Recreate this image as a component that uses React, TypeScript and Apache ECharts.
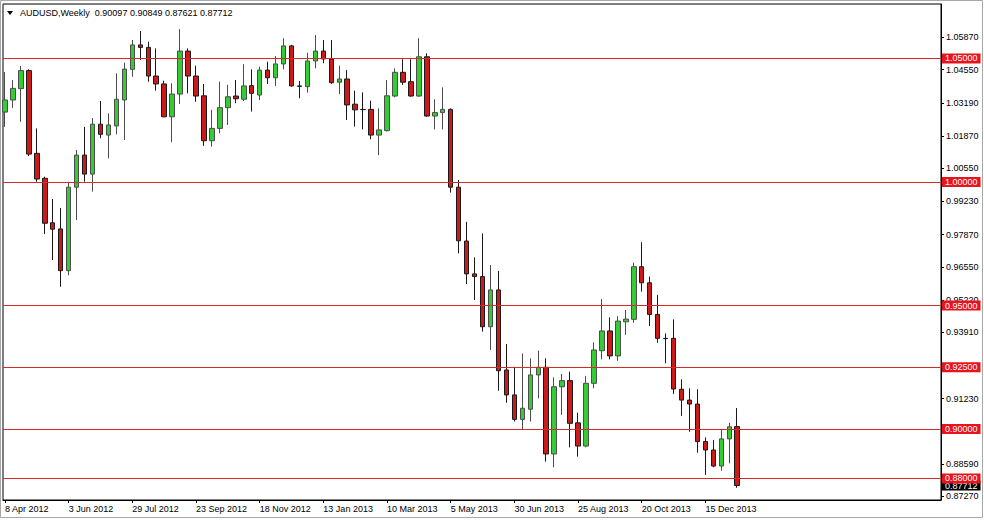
import React, { useEffect, useRef } from "react";
import * as echarts from "echarts";

const symbolTitle = "AUDUSD,Weekly";
const lastBar = [0.90097, 0.90849, 0.87621, 0.87712];
const labelEvery = 8;
const dateLabels = [
  "8 Apr 2012", "3 Jun 2012", "29 Jul 2012", "23 Sep 2012", "18 Nov 2012", "13 Jan 2013",
  "10 Mar 2013", "5 May 2013", "30 Jun 2013", "25 Aug 2013", "20 Oct 2013", "15 Dec 2013",
];

const opens = [
  1.0283, 1.0332, 1.0378, 1.0451, 1.0116, 1.0015, 0.9835, 0.981, 0.9641, 0.9979,
  1.0109, 1.0032, 1.0234, 1.019, 1.0227, 1.0332, 1.0456, 1.0555, 1.0545, 1.0429,
  1.0397, 1.0264, 1.0356, 1.053, 1.0429, 1.0349, 1.0167, 1.0217, 1.0301, 1.0348,
  1.0335, 1.039, 1.0352, 1.0453, 1.0422, 1.0478, 1.0551, 1.0389, 1.0386, 1.049,
  1.053, 1.0498, 1.0404, 1.0417, 1.0315, 1.0294, 1.0294, 1.019, 1.0208, 1.0348,
  1.0444, 1.0406, 1.0348, 1.0507, 1.0267, 1.0281, 1.0294, 0.9979, 0.9761, 0.9628,
  0.9617, 0.9414, 0.9563, 0.9239, 0.9138, 0.9039, 0.908, 0.9219, 0.925, 0.8899,
  0.9171, 0.9196, 0.9025, 0.8931, 0.9185, 0.9317, 0.9397, 0.9296, 0.9434, 0.9444,
  0.9657, 0.9592, 0.9464, 0.9367, 0.9367, 0.9161, 0.9117, 0.9101, 0.8949, 0.8915,
  0.885, 0.896, 0.90097,
];
const closes = [
  1.0332, 1.0379, 1.0451, 1.0113, 1.0012, 0.9833, 0.9809, 0.9641, 0.9979, 1.0109,
  1.0032, 1.0234, 1.0193, 1.0231, 1.0335, 1.0457, 1.0555, 1.0545, 1.0429, 1.0397,
  1.0264, 1.0356, 1.053, 1.0429, 1.0348, 1.0167, 1.0217, 1.0301, 1.0345, 1.0337,
  1.0389, 1.0359, 1.0453, 1.0422, 1.0478, 1.0551, 1.0389, 1.0387, 1.049, 1.053,
  1.0498, 1.0402, 1.0417, 1.0312, 1.0292, 1.0293, 1.019, 1.0211, 1.0349, 1.0444,
  1.0404, 1.0348, 1.0507, 1.0267, 1.0281, 1.0294, 0.9979, 0.9762, 0.9628, 0.9617,
  0.9414, 0.9563, 0.9236, 0.9138, 0.9039, 0.9084, 0.9219, 0.925, 0.8899, 0.9171,
  0.9196, 0.9023, 0.8931, 0.9185, 0.932, 0.9397, 0.9296, 0.9437, 0.9445, 0.9657,
  0.9592, 0.9464, 0.9367, 0.9366, 0.9162, 0.9117, 0.9101, 0.8949, 0.8915, 0.885,
  0.896, 0.9009, 0.87712,
];
const highs = [
  1.0445, 1.0413, 1.047, 1.0456, 1.0217, 1.0021, 0.9931, 0.9895, 1.0001, 1.013,
  1.0223, 1.0259, 1.0328, 1.0278, 1.044, 1.0483, 1.0575, 1.0611, 1.0568, 1.0541,
  1.041, 1.04, 1.0619, 1.0541, 1.0471, 1.0397, 1.0292, 1.0406, 1.0393, 1.0413,
  1.0477, 1.0456, 1.0467, 1.0487, 1.051, 1.0582, 1.0555, 1.0409, 1.0523, 1.0595,
  1.0575, 1.0575, 1.0471, 1.0453, 1.037, 1.0363, 1.0329, 1.0298, 1.0413, 1.046,
  1.0497, 1.0497, 1.0582, 1.0521, 1.0335, 1.0383, 1.0298, 1.0008, 0.9839, 0.9695,
  0.9792, 0.9664, 0.964, 0.9344, 0.9252, 0.9306, 0.9286, 0.9317, 0.9286, 0.9209,
  0.9223, 0.9232, 0.9066, 0.9215, 0.9351, 0.9526, 0.9452, 0.9457, 0.9482, 0.9673,
  0.9756, 0.9617, 0.9543, 0.9387, 0.9444, 0.9201, 0.9165, 0.9161, 0.8966, 0.8955,
  0.8999, 0.9025, 0.90849,
];
const lows = [
  1.0223, 1.03, 1.0244, 1.0105, 1.0001, 0.9789, 0.9684, 0.9576, 0.9623, 0.9846,
  1.0001, 0.9961, 1.0177, 1.0096, 1.0193, 1.017, 1.0426, 1.0494, 1.0406, 1.037,
  1.0262, 1.0161, 1.0316, 1.0359, 1.0325, 1.0146, 1.0143, 1.0197, 1.0231, 1.0319,
  1.0328, 1.0285, 1.0332, 1.0397, 1.0389, 1.0456, 1.0386, 1.0339, 1.0362, 1.046,
  1.0481, 1.0397, 1.0356, 1.0251, 1.0224, 1.0213, 1.0173, 1.0109, 1.0204, 1.0343,
  1.0393, 1.0345, 1.0345, 1.0264, 1.0213, 1.0213, 0.9957, 0.9711, 0.9587, 0.9522,
  0.9394, 0.932, 0.9155, 0.9106, 0.903, 0.8996, 0.903, 0.9124, 0.8868, 0.8845,
  0.9057, 0.8926, 0.8888, 0.8926, 0.9165, 0.9282, 0.9282, 0.9276, 0.9381, 0.943,
  0.9556, 0.9417, 0.9349, 0.9266, 0.9142, 0.9053, 0.8989, 0.8904, 0.8814, 0.8845,
  0.8831, 0.8861, 0.87621,
];

const priceTicks = [
  1.0587, 1.0455, 1.0319, 1.0187, 1.0055, 0.9923, 0.9787, 0.9655, 0.9522, 0.9391,
  0.9123, 0.8859, 0.8727,
];
const levelLines = [1.05, 1.0, 0.95, 0.925, 0.9, 0.88];

const FONT = "Liberation Sans, Arial, sans-serif";

export default function App() {
  const ref = useRef<HTMLDivElement>(null);
  useEffect(() => {
    if (!ref.current) return;
    const chart = echarts.init(ref.current, null, { renderer: "svg" });
    const candles = opens.map((o, i) => [i, o, closes[i], lows[i], highs[i]]);
    const labelTicks = dateLabels.map((_, k) => k * labelEvery);
    const lastClose = lastBar[3];

    const markData: any[] = [
      {
        yAxis: lastClose,
        lineStyle: { color: "rgba(0,0,0,0)", width: 0 },
        label: { backgroundColor: "#000000", color: "#ffffff" },
      },
      ...levelLines.map((v) => ({ yAxis: v })),
    ];

    chart.setOption({
      animation: false,
      backgroundColor: "#ffffff",
      textStyle: { fontFamily: FONT },
      grid: {
        left: 3,
        right: 43,
        top: 4,
        bottom: 20,
        show: true,
        borderColor: "#000000",
        borderWidth: 1,
        backgroundColor: "#ffffff",
      },
      xAxis: {
        type: "value",
        min: -0.25,
        max: 117.6,
        axisLine: { show: true, onZero: false, lineStyle: { color: "#000000", width: 1 } },
        axisTick: {
          show: true,
          length: 3,
          customValues: labelTicks,
          lineStyle: { color: "#000000" },
        },
        axisLabel: {
          customValues: labelTicks,
          formatter: (v: number) => dateLabels[Math.round(v / labelEvery)] ?? "",
          align: "left",
          margin: 4,
          fontSize: 9,
          color: "#000000",
          fontFamily: FONT,
        },
        splitLine: { show: false },
      },
      yAxis: {
        type: "value",
        position: "right",
        min: 0.87126,
        max: 1.07206,
        scale: true,
        axisLine: { show: true, onZero: false, lineStyle: { color: "#000000", width: 1 } },
        axisTick: {
          show: true,
          length: 3,
          customValues: priceTicks,
          lineStyle: { color: "#000000" },
        },
        axisLabel: {
          customValues: priceTicks,
          formatter: (v: number) => v.toFixed(5),
          margin: 5,
          fontSize: 9,
          color: "#000000",
          fontFamily: FONT,
        },
        splitLine: { show: false },
      },
      series: [
        {
          type: "candlestick",
          data: candles,
          encode: { x: 0, y: [1, 2, 3, 4] },
          barWidth: 5,
          itemStyle: {
            color: "#33CC33",
            color0: "#CC1A1A",
            borderColor: "#4d4d4d",
            borderColor0: "#1a1a1a",
            borderWidth: 1,
          },
          markLine: {
            silent: true,
            symbol: ["none", "none"],
            precision: 5,
            lineStyle: { color: "#D42A2A", width: 1, type: "solid" },
            label: {
              show: true,
              position: "end",
              distance: 1,
              formatter: (p: any) => Number(p.value).toFixed(5),
              backgroundColor: "#E8141C",
              color: "#ffffff",
              fontSize: 9,
              lineHeight: 10,
              padding: [0, 3, 0, 3],
              fontFamily: FONT,
            },
            data: markData,
          },
        },
      ],
      graphic: [
        {
          type: "rect",
          shape: { x: 0.5, y: 0.5, width: 982, height: 517 },
          style: { fill: "none", stroke: "#a8a8a8", lineWidth: 1 },
          silent: true,
          z: 100,
        },
        {
          type: "polygon",
          shape: { points: [[7, 11], [13, 11], [10, 15]] },
          style: { fill: "#000000" },
          z: 100,
        },
        {
          type: "text",
          x: 20,
          y: 13,
          style: {
            text: symbolTitle + "  " + lastBar.map((v) => v.toFixed(5)).join(" "),
            fontSize: 9,
            fontFamily: FONT,
            fill: "#000000",
            verticalAlign: "middle",
          },
          z: 100,
        },
      ],
    });
    return () => chart.dispose();
  }, []);
  return (
    <div
      ref={ref}
      style={{ position: "fixed", left: 0, top: 0, width: 984, height: 520, background: "#fff" }}
    />
  );
}
